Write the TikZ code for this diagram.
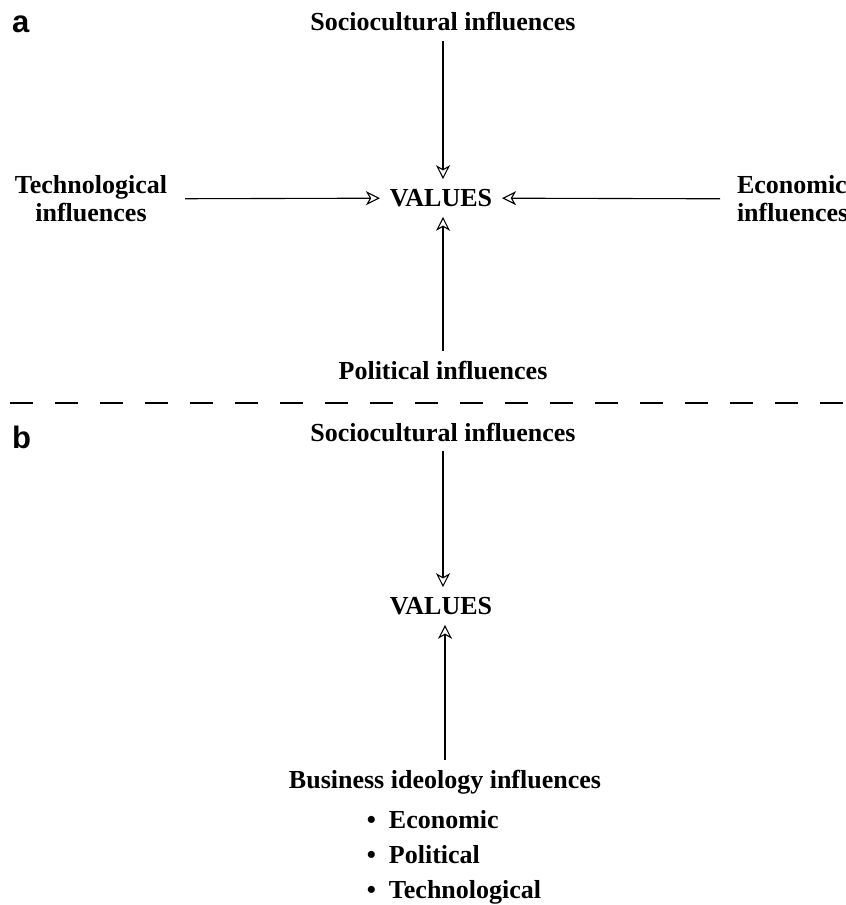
\documentclass[tikz,border=0pt]{standalone}
\usepackage{fontspec}
\setmainfont{Liberation Serif}
\newfontfamily\partfont{Liberation Sans}
\usetikzlibrary{arrows.meta,positioning}
\tikzset{
  lab/.style={font=\fontsize{26}{28}\selectfont\bfseries, align=center, inner sep=2pt, outer sep=8pt},
  part/.style={font=\partfont\fontsize{31}{31}\selectfont\bfseries, anchor=north west, inner sep=0pt},
  arr/.style={-{Stealth[open,length=14pt,width=14pt,inset=4pt]}, line width=1.1pt}
}
\begin{document}
\begin{tikzpicture}[x=1pt,y=-1pt]
\useasboundingbox (0,0) rectangle (846,905);
% part a
\node[part] (pa) at (12,16) {a};
\node[lab] (soc1) at (443,22) {Sociocultural influences};
\node[lab] (val1) at (441,198) {VALUES};
\node[lab] (tech) at (91,199) {Technological\\influences};
\node[lab, align=left, anchor=west, inner sep=0pt] (econ) at (729,199) {Economic\\influences};
\node[lab] (pol) at (443,370) {Political influences};
\draw[arr] (soc1.south) -- (soc1.south |- val1.north);
\draw[arr] (pol.north) -- (pol.north |- val1.south);
\draw[arr, shorten <=8pt] (tech) -- (val1);
\draw[arr, shorten <=9pt] (econ) -- (val1);

\draw[line width=1.2pt, dash pattern=on 23pt off 22pt] (10,403) -- (846,403);

% part b
\node[part] (pb) at (12,426) {b};
\node[lab] (soc2) at (443,432) {Sociocultural influences};
\node[lab] (val2) at (441,606) {VALUES};
\node[lab] (biz) at (445,782) {Business ideology influences};
\node[lab, align=left, font=\fontsize{26}{35}\selectfont\bfseries, outer sep=0pt] (lst) at (454,857)
  {\textbullet\ \ Economic\\ \textbullet\ \ Political\\ \textbullet\ \ Technological};
\draw[arr] (soc2.south) -- (soc2.south |- val2.north);
\draw[arr] (biz.north) -- (biz.north |- val2.south);

\end{tikzpicture}
\end{document}
